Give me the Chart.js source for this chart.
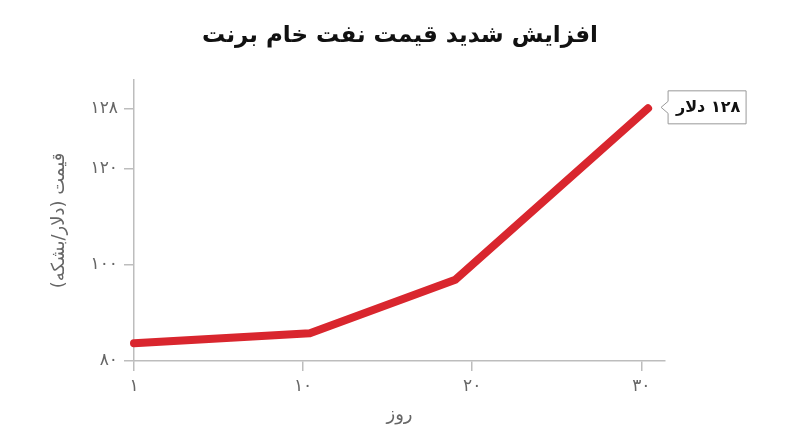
<!DOCTYPE html>
<html lang="fa">
<head>
<meta charset="utf-8">
<script src="https://cdn.jsdelivr.net/npm/chart.js@4.4.1/dist/chart.umd.min.js"></script>
<style>
  html, body { margin: 0; padding: 0; background: #fff; }
  #wrap { width: 800px; height: 447px; }
  canvas { direction: rtl; }
</style>
</head>
<body>
<div id="wrap"><canvas id="oilChart" dir="rtl"></canvas></div>
<script>
const chartTitle = "افزایش شدید قیمت نفت خام برنت";
const xTitle = "روز";
const yTitle = "قیمت (دلار/بشکه)";

// day positions and price values
const days = [0, 10.4, 19, 30.4];
const prices = [83.7, 85.8, 96.9, 132.6];

const xTickValues = [0, 10, 20, 30];
const xTickLabels = ["۱", "۱۰", "۲۰", "۳۰"];
const yTickValues = [80, 100, 120, 132.6];
const yTickLabels = ["۸۰", "۱۰۰", "۱۲۰", "۱۲۸"];
const endLabel = "۱۲۸ دلار";

const font = "'DejaVu Sans', sans-serif";
const axisGray = "#bdbdbd";
const textGray = "#666";

// title centred on the whole canvas, not the plot area
const topTitle = {
    id: "topTitle",
    afterDraw(chart) {
        const ctx = chart.ctx;
        ctx.save();
        ctx.direction = "rtl";
        ctx.fillStyle = "#111";
        ctx.font = "bold 23px " + font;
        ctx.textAlign = "center";
        ctx.textBaseline = "middle";
        ctx.fillText(chartTitle, chart.width / 2, 36);
        ctx.restore();
    }
};

const endBox = {
    id: "endBox",
    afterDatasetsDraw(chart) {
        const pts = chart.getDatasetMeta(0).data;
        const p = pts[pts.length - 1];
        const ctx = chart.ctx;
        const left = p.x + 20, w = 78, h = 33;
        const top = p.y - h / 2 - 1;
        ctx.save();
        ctx.beginPath();
        ctx.moveTo(left, top);
        ctx.lineTo(left + w, top);
        ctx.lineTo(left + w, top + h);
        ctx.lineTo(left, top + h);
        ctx.lineTo(left, top + h / 2 + 6);
        ctx.lineTo(p.x + 13, top + h / 2);
        ctx.lineTo(left, top + h / 2 - 6);
        ctx.closePath();
        ctx.fillStyle = "#fff";
        ctx.fill();
        ctx.strokeStyle = "#999";
        ctx.lineWidth = 1;
        ctx.stroke();
        ctx.direction = "rtl";
        ctx.fillStyle = "#111";
        ctx.font = "bold 16px " + font;
        ctx.textAlign = "center";
        ctx.textBaseline = "middle";
        ctx.fillText(endLabel, left + w / 2 + 1, top + h / 2 + 1);
        ctx.restore();
    }
};

new Chart(document.getElementById("oilChart"), {
    type: "line",
    data: {
        datasets: [{
            data: days.map((d, i) => ({x: d, y: prices[i]})),
            borderColor: "#d9262e",
            borderWidth: 8,
            borderCapStyle: "round",
            borderJoinStyle: "round",
            pointRadius: 0,
            tension: 0,
            clip: false
        }]
    },
    options: {
        responsive: true,
        maintainAspectRatio: false,
        animation: false,
        layout: {padding: {left: 0, right: 135, top: 80, bottom: 0}},
        plugins: {
            legend: {display: false},
            tooltip: {enabled: false},
            title: {display: false}
        },
        scales: {
            x: {
                type: "linear",
                min: 0,
                max: 31.4,
                afterBuildTicks: s => { s.ticks = xTickValues.map(v => ({value: v})); },
                afterFit: s => { s.height = 86; },
                ticks: {
                    color: textGray,
                    font: {family: font, size: 17},
                    padding: 5,
                    maxRotation: 0,
                    callback: (v, i) => xTickLabels[i]
                },
                grid: {drawOnChartArea: false, color: axisGray, tickLength: 10, lineWidth: 1.5},
                border: {color: axisGray, width: 1.5},
                title: {
                    display: true,
                    text: xTitle,
                    color: textGray,
                    font: {family: font, size: 18},
                    padding: {top: 0, bottom: 21}
                }
            },
            y: {
                type: "linear",
                min: 80,
                max: 138.5,
                afterBuildTicks: s => { s.ticks = yTickValues.map(v => ({value: v})); },
                afterFit: s => { s.width = 134; },
                ticks: {
                    color: textGray,
                    font: {family: font, size: 17},
                    padding: 6,
                    callback: (v, i) => yTickLabels[i]
                },
                grid: {drawOnChartArea: false, color: axisGray, tickLength: 10, lineWidth: 1.5},
                border: {color: axisGray, width: 1.5},
                title: {
                    display: true,
                    text: yTitle,
                    color: textGray,
                    font: {family: font, size: 18},
                    padding: {top: 49, bottom: 0}
                }
            }
        }
    },
    plugins: [topTitle, endBox]
});
</script>
</body>
</html>
